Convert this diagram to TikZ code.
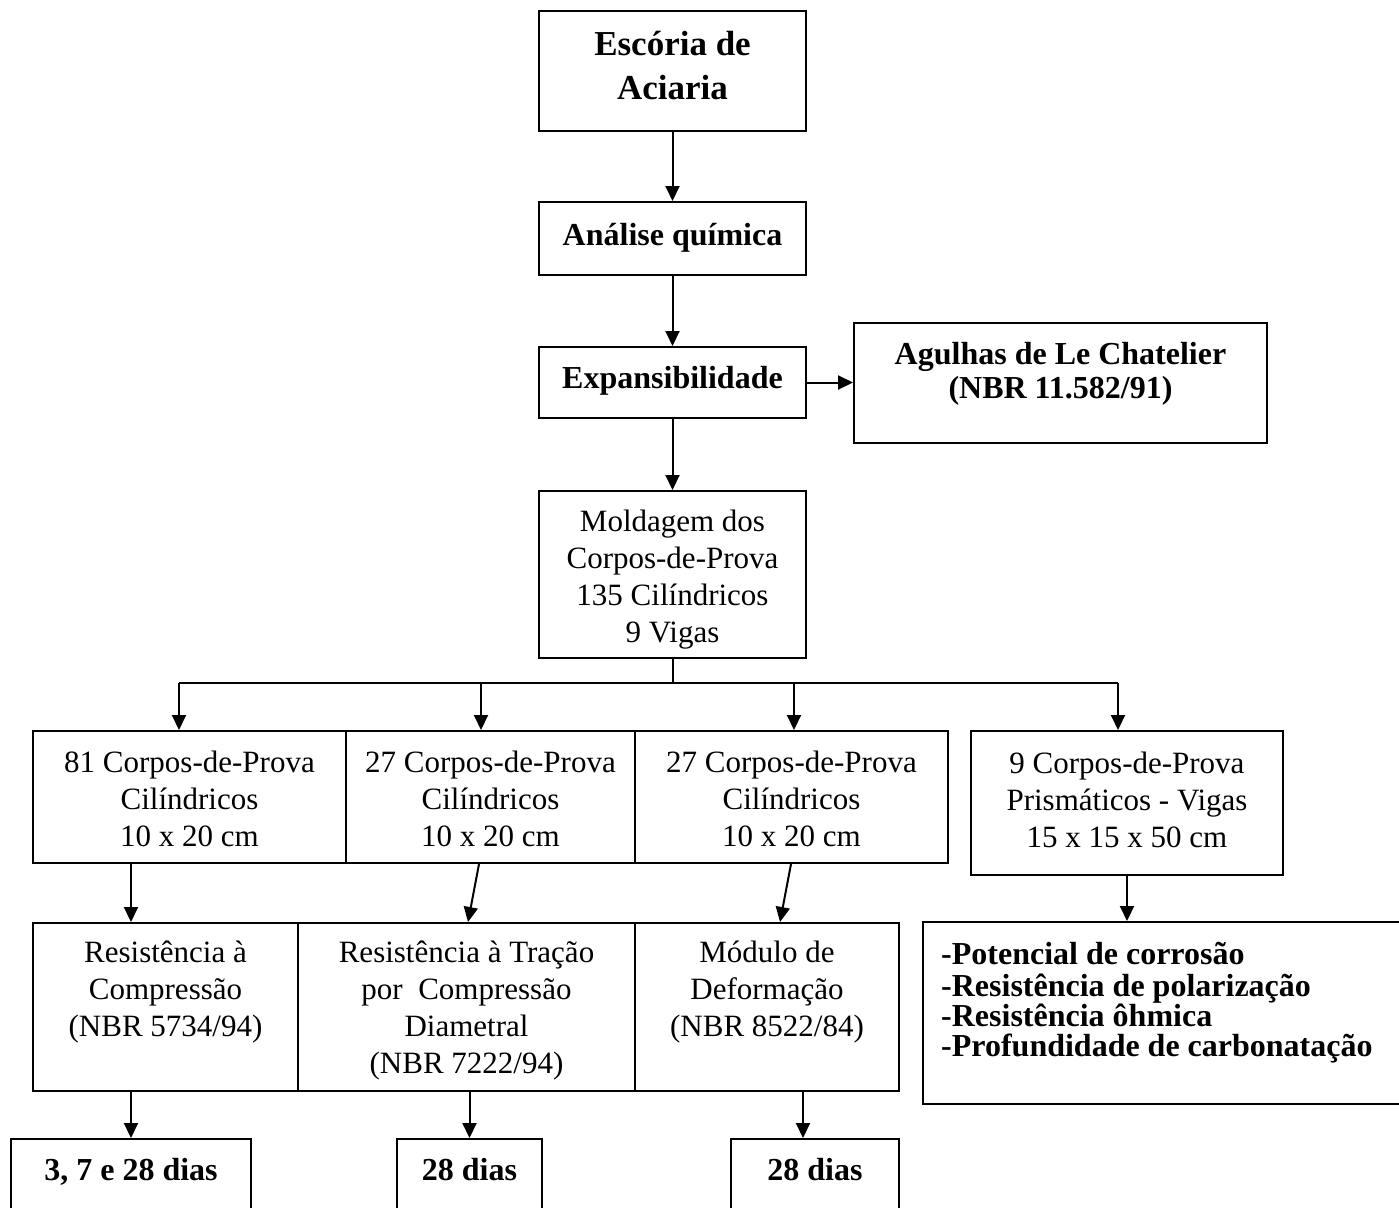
\documentclass[tikz,border=0pt]{standalone}
\usepackage{fontspec}
\setmainfont{Liberation Serif}
\usetikzlibrary{arrows.meta}

\tikzset{
  box/.style={draw, rectangle, line width=2pt, inner sep=0pt},
  conn/.style={line width=2pt},
  arr/.style={conn, -{Triangle[length=15pt,width=14pt]}},
  regtext/.style={inner sep=0pt, align=center, anchor=north,
                  font=\fontsize{31}{37}\selectfont},
  boldtext/.style={inner sep=0pt, align=center,
                   font=\fontsize{32}{34}\selectfont\bfseries},
}

\begin{document}
\begin{tikzpicture}[x=1pt, y=1pt]
  \clip (0,0) rectangle (1399,-1207);
  \fill[white] (0,0) rectangle (1399,-1207);

  % main column
  \node[box, minimum width=267, minimum height=120] (esc)  at (672.5,-71)    {};
  \node[box, minimum width=267, minimum height=73]  (ana)  at (672.5,-238.5) {};
  \node[box, minimum width=267, minimum height=71]  (exp)  at (672.5,-382.5) {};
  \node[box, minimum width=413, minimum height=120] (agu)  at (1060.5,-383)  {};
  \node[box, minimum width=267, minimum height=167] (mold) at (672.5,-574.5) {};

  % specimen groups
  \node[box, minimum width=313, minimum height=132] (r1a) at (189.5,-797) {};
  \node[box, minimum width=289, minimum height=132] (r1b) at (490.5,-797) {};
  \node[box, minimum width=313, minimum height=132] (r1c) at (791.5,-797) {};
  \node[box, minimum width=312, minimum height=144] (r1d) at (1127,-803)  {};

  % tests
  \node[box, minimum width=265, minimum height=168] (r2a) at (165.5,-1007) {};
  \node[box, minimum width=337, minimum height=168] (r2b) at (466.5,-1007) {};
  \node[box, minimum width=264, minimum height=168] (r2c) at (767,-1007)   {};
  \node[box, minimum width=487, minimum height=182] (pot) at (1166.5,-1013) {};

  % ages
  \node[box, minimum width=240, minimum height=91] (d1) at (131,-1184.5)   {};
  \node[box, minimum width=145, minimum height=91] (d2) at (469.5,-1184.5) {};
  \node[box, minimum width=168, minimum height=91] (d3) at (815,-1184.5)   {};

  % texts
  \node[inner sep=0pt, align=center, anchor=north,
        font=\fontsize{35}{44}\selectfont\bfseries] at (672.5,-24.3)
        {\strut Escória de\\Aciaria};
  \node[boldtext, anchor=base] at (672.5,-245.8) {Análise química};
  \node[boldtext, anchor=base] at (672.5,-388.8) {Expansibilidade};
  \node[boldtext, anchor=north] at (1060.5,-340)
        {\strut Agulhas de Le Chatelier\\(NBR 11.582/91)};
  \node[regtext] at (672.5,-505.4)
        {\strut Moldagem dos\\Corpos-de-Prova\\135 Cilíndricos\\9 Vigas};

  \node[regtext] at (189.5,-746.4) {\strut 81 Corpos-de-Prova\\Cilíndricos\\10 x 20 cm};
  \node[regtext] at (490.5,-746.4) {\strut 27 Corpos-de-Prova\\Cilíndricos\\10 x 20 cm};
  \node[regtext] at (791.5,-746.4) {\strut 27 Corpos-de-Prova\\Cilíndricos\\10 x 20 cm};
  \node[regtext] at (1127,-747.4)  {\strut 9 Corpos-de-Prova\\Prismáticos - Vigas\\15 x 15 x 50 cm};

  \node[regtext] at (165.5,-936.4) {\strut Resistência à\\Compressão\\(NBR 5734/94)};
  \node[regtext] at (466.5,-936.4) {\strut Resistência à Tração\\por\ \ Compressão\\Diametral\\(NBR 7222/94)};
  \node[regtext] at (767,-936.4)   {\strut Módulo de\\Deformação\\(NBR 8522/84)};
  \node[inner sep=0pt, align=left, anchor=north west,
        font=\fontsize{32}{29.7}\selectfont\bfseries] at (941,-942)
        {\strut -Potencial de corrosão\\-Resistência de polarização\\-Resistência ôhmica\\-Profundidade de carbonatação};

  \node[boldtext, anchor=base] at (131,-1180.5)   {3, 7 e 28 dias};
  \node[boldtext, anchor=base] at (469.5,-1180.5) {28 dias};
  \node[boldtext, anchor=base] at (815,-1180.5)   {28 dias};

  % connectors of the main column
  \draw[arr] (esc.south) -- (ana.north);
  \draw[arr] (ana.south) -- (exp.north);
  \draw[arr] (exp.east) -- (exp.east -| agu.west);
  \draw[arr] (exp.south) -- (mold.north);

  % branching towards the specimen groups
  \coordinate (ja) at (179,-683);
  \coordinate (jb) at (481,-683);
  \coordinate (jc) at (794,-683);
  \coordinate (jd) at (1118,-683);
  \draw[conn] (mold.south) -- (mold.south |- ja);
  \draw[line width=2.6pt] (ja) -- (jd);
  \draw[arr] (ja) -- (ja |- r1a.north);
  \draw[arr] (jb) -- (jb |- r1b.north);
  \draw[arr] (jc) -- (jc |- r1c.north);
  \draw[arr] (jd) -- (jd |- r1d.north);

  % specimen groups to tests
  \draw[arr] (r1a.south -| d1.north) -- (r2a.north -| d1.north);
  \draw[arr] ([xshift=-11.5pt]r1b.south) -- ([xshift=1.5pt]r2b.north);
  \draw[arr] ([xshift=-0.5pt]r1c.south) -- ([xshift=13pt]r2c.north);
  \draw[arr] (r1d.south) -- (r1d.south |- pot.north);

  % tests to ages
  \coordinate (d3in) at ([xshift=-12pt]d3.north);
  \draw[arr] (r2a.south -| d1.north) -- (d1.north);
  \draw[arr] (r2b.south -| d2.north) -- (d2.north);
  \draw[arr] (r2c.south -| d3in) -- (d3in);
\end{tikzpicture}
\end{document}
